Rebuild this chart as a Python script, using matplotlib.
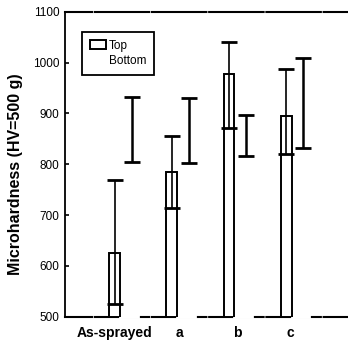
import numpy as np
import matplotlib
matplotlib.use('Agg')
import matplotlib.pyplot as plt

plt.rcParams['font.family'] = ['Liberation Sans', 'DejaVu Sans']
plt.rcParams['lines.scale_dashes'] = False

# values (HV, 500 g)
categories = ['As-sprayed', 'a', 'b', 'c']
top_mean = [626, 784, 978, 894]
top_low = [524, 714, 871, 820]
top_high = [769, 856, 1040, 988]
bottom_low = [804, 803, 817, 832]
bottom_high = [933, 931, 896, 1009]

y_min, y_max = 500, 1100
yticks = [500, 600, 700, 800, 900, 1000, 1100]

x = np.arange(len(categories))
top_mean = np.array(top_mean)
top_err = [top_mean - np.array(top_low), np.array(top_high) - top_mean]
bottom_mid = (np.array(bottom_low) + np.array(bottom_high)) / 2
bottom_err = (np.array(bottom_high) - np.array(bottom_low)) / 2

fig = plt.figure(figsize=(3.48, 3.43), dpi=100)
ax = fig.add_axes([65 / 348, 26.3 / 343, 283 / 348, 305 / 343])

# Top bars and their error bars
ax.bar(x, top_mean - y_min, bottom=y_min, width=0.19, color='white',
       edgecolor='black', linewidth=1.4, label='Top', zorder=3)
ax.errorbar(x, top_mean, yerr=top_err, fmt='none', ecolor='black',
            elinewidth=1.2, capsize=5.5, capthick=2, zorder=4)

# Bottom bars are white (hidden), only the error bars show
ax.bar(x + 0.25, bottom_mid - y_min, bottom=y_min, width=0.31, color='white',
       edgecolor='white', linewidth=2, label='Bottom', zorder=2.6, clip_on=False)
ax.errorbar(x + 0.3, bottom_mid, yerr=bottom_err, fmt='none', ecolor='black',
            elinewidth=1.8, capsize=5.5, capthick=2, zorder=4)

ax.set_ylim(y_min, y_max)
ax.set_xlim(-0.865, 4.08)
ax.set_yticks(yticks)
ax.set_yticklabels([str(v) for v in yticks], fontsize=8.5)
ax.tick_params(axis='y', direction='in', length=3, width=1.2, pad=4)

label_shift = [0.0, 0.14, 0.14, 0.08]
ax.set_xticks(x + np.array(label_shift))
ax.set_xticklabels(categories, fontsize=10, fontweight='bold')
ax.tick_params(axis='x', length=0, pad=7)

ax.set_ylabel('Microhardness (HV=500 g)', fontsize=11.5, fontweight='bold')
ax.yaxis.set_label_coords(-0.149, 0.468)

ax.spines['right'].set_visible(False)
ax.spines['left'].set_linewidth(1.3)
for side in ['top', 'bottom']:
    ax.spines[side].set_linewidth(1.5)
    ax.spines[side].set_linestyle((19.8, (39.2, 2.0)))

leg = ax.legend(loc='upper left', bbox_to_anchor=(0.06, 0.935), fontsize=8.5,
                frameon=True, fancybox=False, edgecolor='black', framealpha=1,
                handlelength=1.3, handleheight=0.75, handletextpad=0.25,
                borderpad=0.7, labelspacing=0.25, borderaxespad=0)
leg.get_frame().set_linewidth(1.3)

plt.savefig('out.png', dpi=100)
